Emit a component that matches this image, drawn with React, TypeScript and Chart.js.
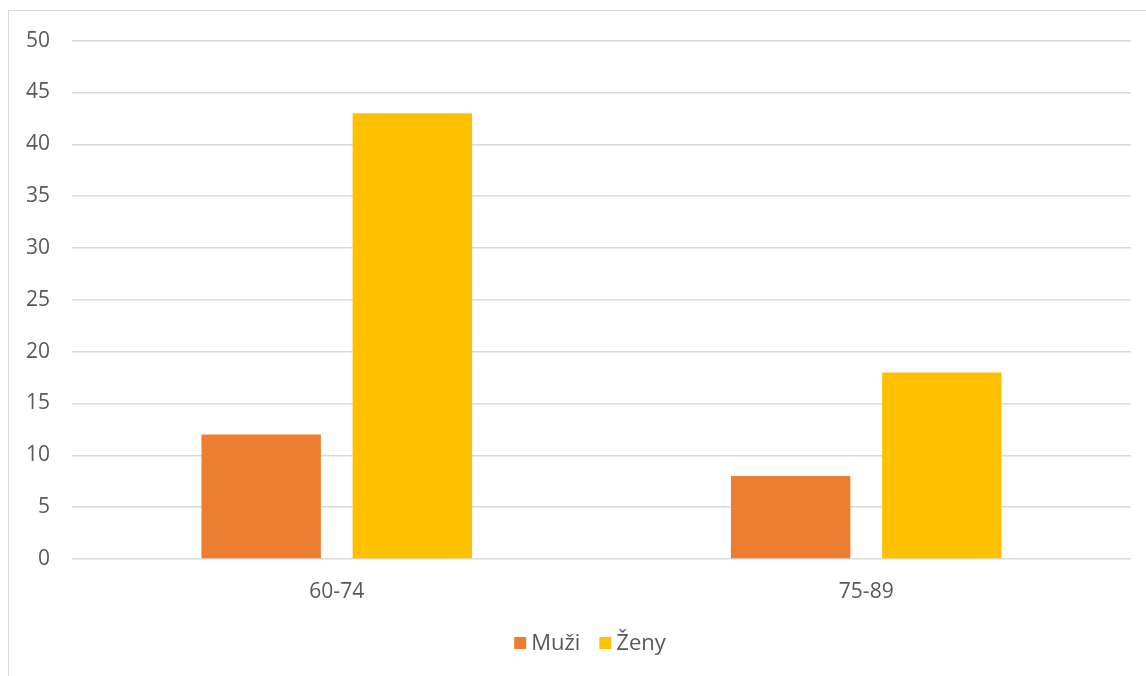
import React, { useEffect, useRef } from "react";
import { Chart, registerables } from "chart.js";

Chart.register(...registerables);

// Age groups on the category axis
const ageGroups = ["60-74", "75-89"];
// Counts per age group
const menValues = [12, 8];
const womenValues = [43, 18];
// Value axis range and step
const yMin = 0;
const yMax = 50;
const yStep = 5;

const FONT = "'Open Sans', 'Liberation Sans', sans-serif";
const TEXT = "#595959";
const GRID = "#d9d9d9";

// Compact legend under the x axis: square swatch, small gap, label
const compactLegend = {
  id: "compactLegend",
  afterDraw(chart: any) {
    const { ctx, chartArea } = chart;
    const box = 12;
    const gap = 5;
    const itemGap = 19;
    ctx.save();
    ctx.font = `22px ${FONT}`;
    ctx.textBaseline = "middle";
    ctx.textAlign = "left";
    const items = chart.data.datasets.map((ds: any) => ({
      text: ds.label as string,
      color: ds.backgroundColor as string,
      w: ctx.measureText(ds.label).width,
    }));
    const total =
      items.reduce((s: number, it: any) => s + box + gap + it.w, 0) +
      itemGap * (items.length - 1);
    const cy = chartArea.bottom + 84;
    let x = chart.width / 2 + 6.5 - total / 2;
    for (const it of items) {
      ctx.fillStyle = it.color;
      ctx.fillRect(x, cy - box / 2, box, box);
      ctx.fillStyle = TEXT;
      ctx.fillText(it.text, x + box + gap, cy + 1);
      x += box + gap + it.w + itemGap;
    }
    ctx.restore();
  },
};

export default function App() {
  const canvasRef = useRef<HTMLCanvasElement | null>(null);

  useEffect(() => {
    const canvas = canvasRef.current;
    if (!canvas) return;
    const chart = new Chart(canvas, {
      type: "bar",
      data: {
        labels: ageGroups,
        datasets: [
          {
            label: "Muži",
            data: menValues,
            backgroundColor: "#ED7D31",
            borderWidth: 0,
          },
          {
            label: "Ženy",
            data: womenValues,
            backgroundColor: "#FFC000",
            borderWidth: 0,
          },
        ],
      },
      options: {
        animation: false,
        responsive: false,
        maintainAspectRatio: false,
        layout: { autoPadding: false, padding: { left: 16, right: 27, top: 12, bottom: 100 } },
        datasets: {
          bar: { categoryPercentage: 0.571, barPercentage: 0.79 },
        },
        scales: {
          x: {
            grid: { display: false, drawTicks: false },
            border: { display: false },
            ticks: {
              color: TEXT,
              font: { family: FONT, size: 21 },
              padding: 20,
            },
            afterFit: (scale: any) => {
              scale.height = 46;
            },
          },
          y: {
            min: yMin,
            max: yMax,
            grid: { color: GRID, lineWidth: 1.5, drawTicks: false },
            border: { display: false },
            ticks: {
              stepSize: yStep,
              color: TEXT,
              font: { family: FONT, size: 21 },
              padding: 22,
            },
            afterFit: (scale: any) => {
              scale.width = 47;
            },
          },
        },
        plugins: {
          tooltip: { enabled: false },
          legend: { display: false },
        },
      },
      plugins: [compactLegend],
    });
    return () => chart.destroy();
  }, []);

  return (
    <div
      style={{
        position: "fixed",
        left: 8,
        top: 10,
        width: 1150,
        height: 700,
        borderLeft: "1px solid #d9d9d9",
        borderTop: "1px solid #d9d9d9",
        background: "#fff",
        overflow: "hidden",
      }}
    >
      <canvas
        ref={canvasRef}
        width={1149}
        height={699}
        style={{ display: "block", position: "relative", top: -5 }}
      />
    </div>
  );
}
